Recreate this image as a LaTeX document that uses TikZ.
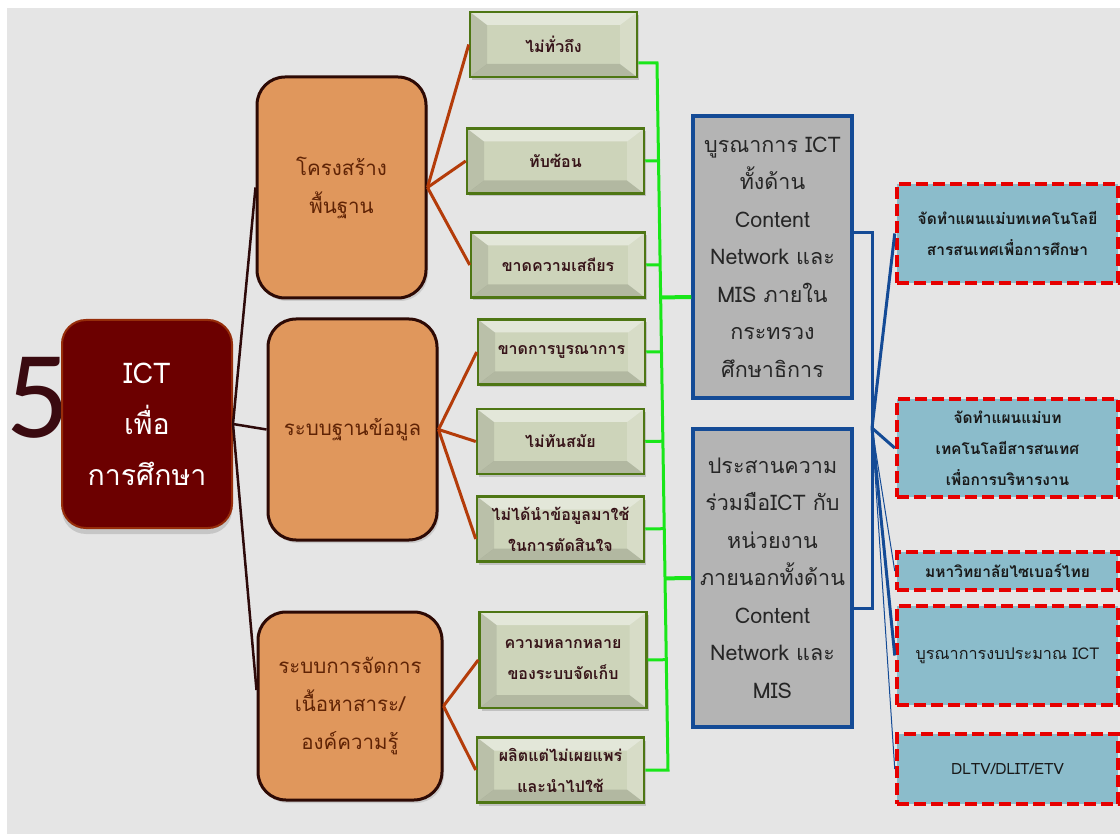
\documentclass[tikz,border=0pt]{standalone}
\usepackage{fontspec}
\usepackage{xcolor}
\usetikzlibrary{calc,shadows}
\newfontfamily\thaifont[Script=Thai]{Loma}
\newfontfamily\numfont{Carlito}
\definecolor{bgcol}{RGB}{229,229,229}
\definecolor{fivecol}{RGB}{58,10,16}
\definecolor{rootfill}{RGB}{108,0,0}
\definecolor{rootedge}{RGB}{150,45,10}
\definecolor{branchfill}{RGB}{224,151,92}
\definecolor{branchedge}{RGB}{45,10,5}
\definecolor{branchtext}{RGB}{95,35,5}
\definecolor{leaffill}{RGB}{205,212,186}
\definecolor{leafedge}{RGB}{78,118,20}
\definecolor{leaftext}{RGB}{55,20,25}
\definecolor{trunkcol}{RGB}{45,10,10}
\definecolor{twigcol}{RGB}{180,60,10}
\definecolor{buscol}{RGB}{25,230,25}
\definecolor{greyfill}{RGB}{180,180,180}
\definecolor{bluecol}{RGB}{20,75,150}
\definecolor{targetfill}{RGB}{139,188,203}
\definecolor{targetedge}{RGB}{230,0,0}

\begin{document}
\begin{tikzpicture}[x=1pt,y=-1pt,
root/.style={draw=rootedge,line width=2pt,fill=rootfill,rounded corners=24pt,text=white,align=center,
 minimum width=170pt,minimum height=208pt,font=\thaifont\fontsize{28.5}{51}\selectfont,
 drop shadow={shadow xshift=0pt,shadow yshift=-6pt,opacity=.3}},
branch/.style={draw=branchedge,line width=3pt,fill=branchfill,rounded corners=28pt,text=branchtext,align=center,
 minimum width=169pt,minimum height=221pt,font=\thaifont\fontsize{20.5}{38}\selectfont,
 drop shadow={shadow xshift=2pt,shadow yshift=-3pt,opacity=.25}},
leaf/.style={draw=leafedge,line width=2.5pt,fill=leaffill,text=leaftext,align=center,inner sep=0pt,
 minimum width=167pt,minimum height=65pt,font=\thaifont\bfseries\fontsize{16}{31}\selectfont,
 drop shadow={shadow xshift=2pt,shadow yshift=-3pt,opacity=.35},
 path picture={
  \path(path picture bounding box.north west)coordinate(p1)(path picture bounding box.north east)coordinate(p2)
   (path picture bounding box.south east)coordinate(p3)(path picture bounding box.south west)coordinate(p4);
  \path($(p1)+(17pt,-13pt)$)coordinate(q1)($(p2)+(-17pt,-13pt)$)coordinate(q2)
   ($(p3)+(-17pt,13pt)$)coordinate(q3)($(p4)+(17pt,13pt)$)coordinate(q4);
  \fill[white,opacity=.45](p1)--(p2)--(q2)--(q1)--cycle;
  \fill[black,opacity=.09](p1)--(q1)--(q4)--(p4)--cycle;
  \fill[black,opacity=.13](p4)--(q4)--(q3)--(p3)--cycle;
  \fill[white,opacity=.2](p2)--(p3)--(q3)--(q2)--cycle;}},
grey/.style={draw=bluecol,line width=3.5pt,fill=greyfill,text=black!85,align=center,
 minimum width=159pt,font=\thaifont\fontsize{21.5}{37.5}\selectfont},
target/.style={draw=targetedge,line width=4.5pt,dash pattern=on 12pt off 5pt,fill=targetfill,text=black!90,align=center,
 minimum width=221pt,font=\thaifont\bfseries\fontsize{15.5}{31}\selectfont},
trunk/.style={draw=trunkcol,line width=2.5pt},
twig/.style={draw=twigcol,line width=3pt},
bus/.style={draw=buscol,line width=3pt},
link/.style={draw=bluecol,line width=3pt}]
\fill[bgcol](7,8)rectangle(1120,834);
\useasboundingbox(0,0)rectangle(1120,834);
\node[anchor=base west,inner sep=0pt,text=fivecol,font=\numfont\fontsize{125}{125}\selectfont](five)at(6,438){5};
\node[root](root)at(147,424){ICT\\เพื่อ\\การศึกษา};
\node[branch](infra)at(341.5,187.5){โครงสร้าง\\พื้นฐาน};
\node[branch](dbase)at(352.5,429.5){ระบบฐานข้อมูล};
\node[branch,minimum width=184pt,minimum height=188pt](content)at(350,706){ระบบการจัดการ\\เนื้อหาสาระ/\\องค์ความรู้};
\node[leaf](l1)at(553.5,44.5){ไม่ทั่วถึง};
\node[leaf,minimum width=177pt](l2)at(555.5,161){ทับซ้อน};
\node[leaf,minimum width=174pt](l3)at(558,265){ขาดความเสถียร};
\node[leaf](l4)at(561.5,352){ขาดการบูรณาการ};
\node[leaf](l5)at(560.5,441.5){ไม่ทันสมัย};
\node[leaf](l6)at(560.5,529){ไม่ได้นำข้อมูลมาใช้\\ในการตัดสินใจ};
\node[leaf,minimum height=96pt](l7)at(563,660){ความหลากหลาย\\ของระบบจัดเก็บ};
\node[leaf](l8)at(560.5,770){ผลิตแต่ไม่เผยแพร่\\และนำไปใช้};
\node[grey,minimum height=282pt](g1)at(772.5,257){บูรณาการ ICT\\ทั้งด้าน\\Content\\Network และ\\MIS ภายใน\\กระทรวง\\ศึกษาธิการ};
\node[grey,minimum height=298pt](g2)at(772.5,578){ประสานความ\\ร่วมมือICT กับ\\หน่วยงาน\\ภายนอกทั้งด้าน\\Content\\Network และ\\MIS};
\node[target,minimum height=99pt](r1)at(1007.5,233.5){จัดทำแผนแม่บทเทคโนโลยี\\สารสนเทศเพื่อการศึกษา};
\node[target,minimum height=98pt](r2)at(1007.5,448){จัดทำแผนแม่บท\\เทคโนโลยีสารสนเทศ\\เพื่อการบริหารงาน};
\node[target,minimum height=38pt](r3)at(1007.5,571){มหาวิทยาลัยไซเบอร์ไทย};
\node[target,minimum height=99pt,font=\thaifont\fontsize{16.2}{31}\selectfont](r4)at(1007.5,655.5){บูรณาการงบประมาณ ICT};
\node[target,minimum height=70pt,font=\thaifont\fontsize{15.5}{31}\selectfont](r5)at(1007.5,769){DLTV/DLIT/ETV};
\draw[trunk](root.east)--(infra.west);
\draw[trunk](root.east)--(dbase.west);
\draw[trunk](root.east)--([yshift=16pt]content.west);
\foreach \n in {l1,l2,l3}\draw[twig](infra.east)--(\n.west);
\draw[twig](dbase.east)--(l4.west);
\draw[twig](dbase.east)--(l5.west);
\draw[twig](dbase.east)--([yshift=-10pt]l6.west);
\draw[twig](content.east)--(l7.west);
\draw[twig](content.east)--(l8.west);
\coordinate(bt)at(657,63);
\coordinate(bb)at(668,770);
\draw[bus](l1.east|-bt)--(bt)--(bb)--(l8.east|-bb);
\foreach \n in {l2,l3,l4,l5,l6,l7}\draw[bus](\n.east)--($(bt)!(\n.east)!(bb)$);
\draw[bus,line width=4pt]([yshift=-40pt]g1.west)--($(bt)!([yshift=-40pt]g1.west)!(bb)$);
\draw[bus,line width=4pt](g2.west)--($(bt)!(g2.west)!(bb)$);
\coordinate(hub)at(872,428);
\draw[link]([yshift=24pt]g1.east)-|(hub)|-([yshift=-30pt]g2.east);
\foreach \n/\w in {r1/3pt,r2/3pt,r3/1pt,r4/3pt,r5/1pt}\draw[link,line width=\w](hub)--(\n.west);
\end{tikzpicture}
\end{document}
